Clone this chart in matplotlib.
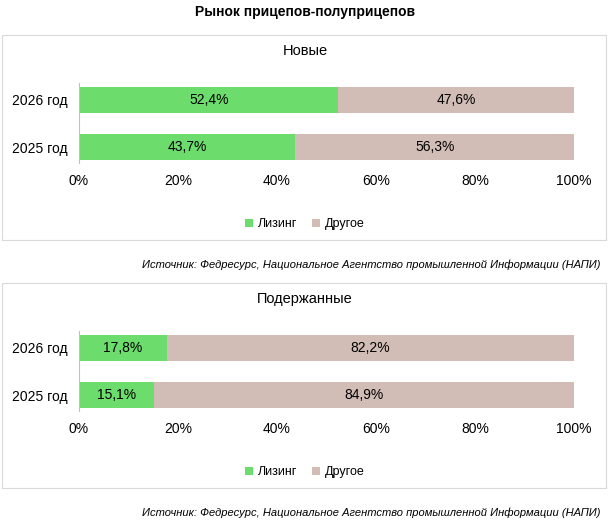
import matplotlib.pyplot as plt
from matplotlib.patches import Rectangle

years = ["2025 год", "2026 год"]
titles = ["Новые", "Подержанные"]
leasing = [[43.7, 52.4], [15.1, 17.8]]
other = [[56.3, 47.6], [84.9, 82.2]]
ticks = [0, 20, 40, 60, 80, 100]
src = "Источник: Федресурс, Национальное Агентство промышленной Информации (НАПИ)"

green = "#6cdc6c"
beige = "#d1bdb5"
W, H = 610, 520

fig = plt.figure(figsize=(6.1, 5.2), dpi=100)
fig.text(0.5, 1 - 12 / H, "Рынок прицепов-полуприцепов", ha="center", va="center",
         fontsize=10, fontweight="bold", family="Arial" if False else "Liberation Sans")

for k in range(2):
    off = 248 * k
    # panel frame
    fig.patches.append(Rectangle((2 / W, 1 - (240 + off) / H), 604 / W, 205 / H,
                                 transform=fig.transFigure, fill=False, ec="#d9d9d9", lw=0.8))
    fig.text(0.5, 1 - (51 + off) / H, titles[k], ha="center", va="center",
             fontsize=10.5, family="Liberation Sans")
    ax = fig.add_axes([79 / W, 1 - (163 + off) / H, 495 / W, 80 / H])
    pos = [0, 1]
    b1 = ax.barh(pos, leasing[k], height=0.57, color=green, label="Лизинг")
    b2 = ax.barh(pos, other[k], left=leasing[k], height=0.57, color=beige, label="Другое")
    for i in pos:
        ax.text(leasing[k][i] / 2, i, f"{leasing[k][i]:.1f}%".replace(".", ","),
                ha="center", va="center", fontsize=10, family="Liberation Sans")
        ax.text(leasing[k][i] + other[k][i] / 2, i, f"{other[k][i]:.1f}%".replace(".", ","),
                ha="center", va="center", fontsize=10, family="Liberation Sans")
    ax.set_xlim(0, 100)
    ax.set_ylim(-0.34, 1.36)
    ax.set_yticks(pos)
    ax.set_yticklabels(years, fontsize=10, family="Liberation Sans")
    ax.set_xticks(ticks)
    ax.set_xticklabels([f"{t}%" for t in ticks], fontsize=10, family="Liberation Sans")
    ax.tick_params(length=0, pad=8)
    for s in ["top", "right", "bottom"]:
        ax.spines[s].set_visible(False)
    ax.spines["left"].set_color("#bfbfbf")
    ax.legend(loc="center", bbox_to_anchor=(0.5, 1 - (224 + off) / H), bbox_transform=fig.transFigure,
              ncol=2, frameon=False, handlelength=0.6, handleheight=0.6, columnspacing=1.2,
              handletextpad=0.4, prop={"family": "Liberation Sans", "size": 9})
    fig.text(600 / W, 1 - (265 + off) / H, src, ha="right", va="center", fontsize=8,
             style="italic", family="Liberation Sans")

fig.savefig("out.png", dpi=100)
